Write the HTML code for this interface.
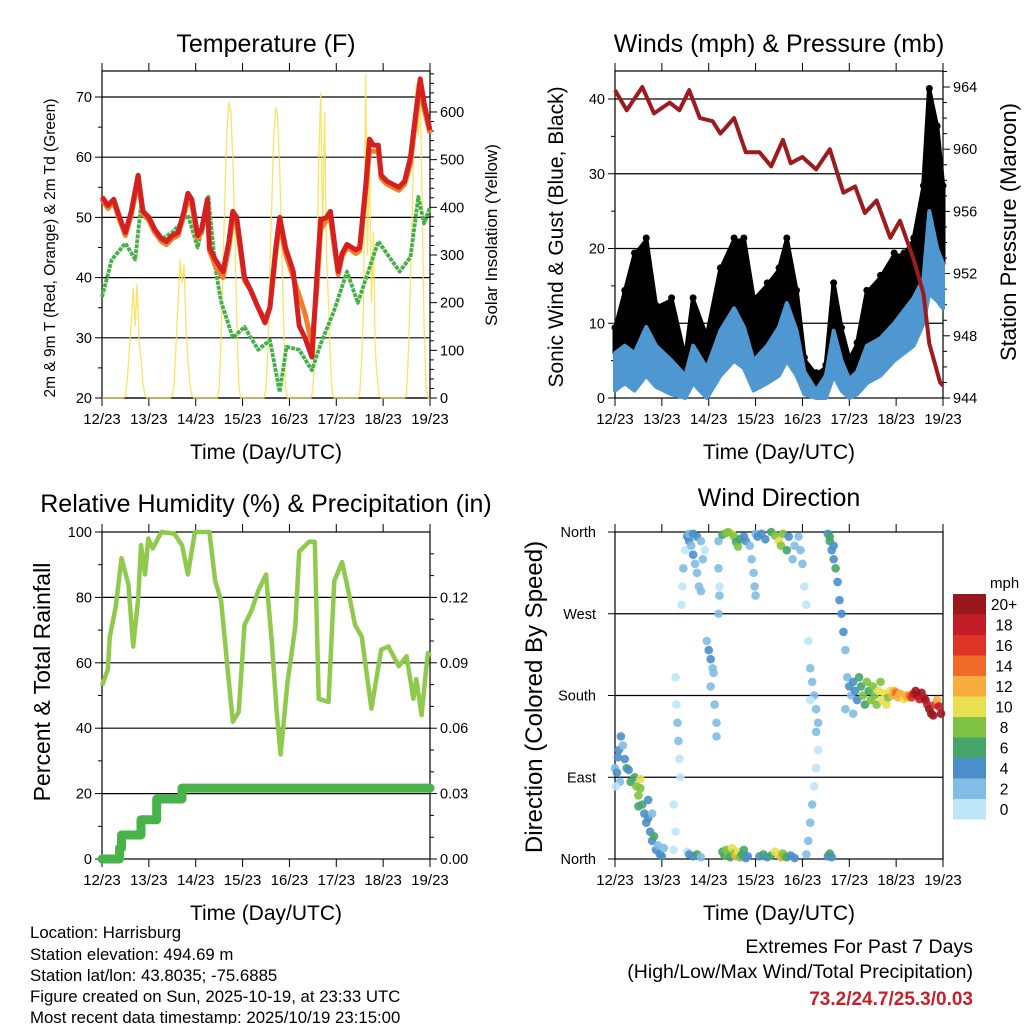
<!DOCTYPE html>
<html><head><meta charset="utf-8"><style>
html,body{margin:0;padding:0;background:#fff;}
svg{display:block;font-family:"Liberation Sans",sans-serif;}
</style></head><body>
<svg id="fig" width="1024" height="1024" viewBox="0 0 1024 1024" xmlns="http://www.w3.org/2000/svg">
<rect x="0" y="0" width="1024" height="1024" fill="#fff"/>
<text x="266" y="52" font-size="25" text-anchor="middle">Temperature (F)</text>
<text x="779" y="52" font-size="25" text-anchor="middle">Winds (mph) &amp; Pressure (mb)</text>
<text x="266" y="512" font-size="25" text-anchor="middle">Relative Humidity (%) &amp; Precipitation (in)</text>
<text x="779" y="506" font-size="25" text-anchor="middle">Wind Direction</text>
<text x="266" y="459" font-size="21" text-anchor="middle">Time (Day/UTC)</text>
<text x="779" y="459" font-size="21" text-anchor="middle">Time (Day/UTC)</text>
<text x="266" y="920" font-size="21" text-anchor="middle">Time (Day/UTC)</text>
<text x="779" y="920" font-size="21" text-anchor="middle">Time (Day/UTC)</text>
<text transform="translate(55,248) rotate(-90)" font-size="15.5" text-anchor="middle">2m &amp; 9m T (Red, Orange) &amp; 2m Td (Green)</text>
<text transform="translate(497,235) rotate(-90)" font-size="17" text-anchor="middle">Solar Insolation (Yellow)</text>
<text transform="translate(563,237) rotate(-90)" font-size="21" text-anchor="middle">Sonic Wind &amp; Gust (Blue, Black)</text>
<text transform="translate(1016,232) rotate(-90)" font-size="22" text-anchor="middle">Station Pressure (Maroon)</text>
<text transform="translate(50,682) rotate(-90)" font-size="23" text-anchor="middle">Percent &amp; Total Rainfall</text>
<text transform="translate(542,697) rotate(-90)" font-size="24" text-anchor="middle">Direction (Colored By Speed)</text>
<g font-size="16.8">
<text x="30" y="938">Location: Harrisburg</text>
<text x="30" y="960">Station elevation: 494.69 m</text>
<text x="30" y="981">Station lat/lon: 43.8035; -75.6885</text>
<text x="30" y="1002">Figure created on Sun, 2025-10-19, at 23:33 UTC</text>
<text x="30" y="1023">Most recent data timestamp: 2025/10/19 23:15:00</text>
</g>
<g text-anchor="end">
<text x="973" y="953" font-size="19.5">Extremes For Past 7 Days</text>
<text x="973" y="978" font-size="19.5">(High/Low/Max Wind/Total Precipitation)</text>
<text x="973" y="1005" font-size="19" font-weight="bold" fill="#c8202b">73.2/24.7/25.3/0.03</text>
</g>
<g id="g-plots"></g>
</svg>
<script>
// ---------- data ----------
const dayLabels = ["12/23","13/23","14/23","15/23","16/23","17/23","18/23","19/23"];
const tempHours = [0,3,6,9,12,15,18.5,21,24,27,30.5,33,36,39,42,44,46,49,51,54,55,58,62,65,67,69,73,76,80,83.5,86,89,91,94,98,101,104,107.5,110,112,115,117,119,121,123,125.5,128,130,132,135,137,139,141.5,143,146,149,152,155,158,161,163,165,168];
const tempRed = [53.4,52,53,50,47.5,51,57,51,50,48,46.5,46,47,47.5,51,54,53,47,48,53,45,43,41,46,51,50,40,38,35,32.5,35,45,50,45,41,32,30,26.8,40,49.6,50,51,46,41,44,45.5,45,44.6,45,55,63,62,62,57,56,55.5,55,56,60,68,73,69,64.5];
const tempOrange = [53,51.5,52.5,49.5,47,50.5,56,50.5,49.5,47.5,46,45.5,46.5,47,50.5,53,52,46.5,47.5,52.5,44.5,42,40,45,50,49,39.5,38,35,33,35,44,49,44,40,37,34,29,38,48,49.5,50,45,40.5,43.5,45,44.5,44,44.5,54,61,61,61,56.5,55.5,55,54.5,55.5,59,67,72,68,64];
const dewHours = [0,5,12,17,20,25,30,36,44,49,54.5,58,61,67,73,80,86,91,94.5,101,107.5,112,119,125.5,131,141.5,152.5,158,162,165,168];
const dewGreen = [36.8,43,45.7,43,52,49,46.3,47.5,50.4,45,53.4,41.8,36,30,31.8,28,29.6,21,28.5,28,24.6,29,34.6,41,35.8,46,41,43.4,53.4,49,51.7];
const solarHours = [];
const solarDaily = [
 [5,40,100,160,230,150,240,120,80,30,5],
 [5,30,120,200,290,240,280,150,80,30,5],
 [20,120,280,430,560,620,600,500,350,170,30],
 [20,110,270,420,550,610,590,480,330,160,25],
 [15,90,250,500,640,350,600,300,200,80,10],
 [10,80,200,680,300,500,200,350,100,40,5],
 [10,100,250,400,600,660,550,650,400,150,20]];
const windHours = [0,5,10,16,21,29,36,40,47,54,61,66,71,78,84,88,93,97,103,108,112,116,120,124,129,136,143,148,153,158,161,165,168];
const sustHi = [6,7,6,9.5,7,5,3,7,4,9,12,9.5,5,7,9.5,12.7,9,3.5,1,3,9,5,2.5,3.5,7,8,10,11.7,13.4,16,25,20,18];
const sustLo = [1,2,1,3,1.5,0.5,0,2,0,3,5,4,1,2,3,5,3,0.5,0,0,3,1,0,0.5,2,3,5,6,7,10,14,13,12];
const gustHi = [9,14,19,21,12,13,5,13,8,17,21,21,13,15,17,21,14,5,3,4,15,9,5,7,14,16,19,19,21,28,41,36,28];
const presHours = [0,6,14,20,28,33,38,43.5,50,54,61,67,74,80,86,90,96,103,110,117,123,128,134,141,146,153,158,161,166.5,168];
const pressure = [963.8,962.5,964,962.3,963,962.5,963.8,962,961.8,961,962,959.8,959.8,958.9,960.6,959.1,959.5,958.7,960,957.2,957.6,955.9,956.7,954.3,955.4,952.9,950.7,947.5,945,944.8];
const rhHours = [0,3,4,7,10,13.5,16,18.6,20,22,23.7,26,30.5,37,41,44,47.6,55,58,61,64.7,67,70,73,76.6,80,84,87,89.5,91.5,95,99,101,106,109,111,116,119,123,126,129.6,133,138,143,146.7,152,156,159.5,161,163.7,166,167,168];
const rhValues = [53,58,68,77,92,84,65,80,96,87,98,95,100,99.5,96,87,100,100,85,79,56,42,45,71.6,76,82,87,66,45,32,54,71,94,97,97,49,48,85,90.8,82.5,71.6,68,46,64,65,59,62,49,55,44,58,63,62];
const precipHours = [0,9,10,20,28,41,168];
const precipIn = [0,0.005,0.011,0.018,0.0275,0.0325,0.0325];
const wdHour = [0,1,1.5,2,3,4,5,6,7,8,2.5,0.5,
 10,11,12,13,14,15,16,17,18,19,20,21,22,23,24,25,17,19,13,12,
 31,31.5,32,32.5,33,33.5,34,34.5,35,36,30,30,31,
 37,38,39,40,41,42,43,44,38,40,42,44,45,46,37,38,40,42,44,
 48,49,50,50.5,49,51,52,52,47,53,53,53.5,53,53.5,
 55,56,57,58,59,60,61,62,63,64,65,66,67,68,55,57,60,61,62,63,64,58,66,67,
 70,71,71.5,72,69,72,73,
 74,76,78,80,82,84,85,86,87,88,90,92,75,77,80,82,84,85,86,88,89,91,92,
 94,95,96,97,98,99,100,101,102,103,104,104,103,102,101,100,99,98,100,103,
 109,110,111,109,110,111,112,113,114,115,116,117,118,110,112,
 119,120,121,122,123,124,125,126,127,128,129,130,131,132,133,134,135,136,137,138,139,140,141,118,122,
 142,143,144,145,146,147,148,149,150,151,152,153,154,155,156,157,158,159,160,161,162,163,164,165,166,167];
const wdDeg = [100,95,112,120,135,125,110,100,98,85,85,80,
 90,80,70,78,60,50,40,45,30,20,25,10,15,5,3,12,65,50,88,58,
 200,170,150,130,110,90,280,300,320,340,10,60,30,
 355,350,345,335,325,315,300,295,358,358,355,350,330,340,8,5,3,5,2,
 230,220,210,205,190,170,150,135,240,350,320,290,270,300,
 8,4,10,5,2,12,6,3,8,2,5,10,1,3,357,359,358,355,349,344,352,360,355,350,
 330,315,300,290,345,358,355,
 3,5,2,4,8,5,2,6,3,2,4,1,358,352,360,356,350,345,358,340,355,330,345,
 355,340,325,300,280,240,210,195,180,165,150,120,100,80,60,40,20,5,175,140,
 3,6,2,358,350,340,330,320,305,285,270,250,230,355,345,
 200,190,180,195,185,175,200,190,180,170,195,185,175,190,180,170,185,195,175,182,170,178,185,165,160,
 180,185,183,178,182,180,176,180,178,180,178,182,185,180,176,183,178,175,170,165,160,158,170,175,168,160];
const wdSpd = [3,4,4,4,4,3,5,6,5,7,3,1,
 7,8,8,9,6,5,4,4,5,4,6,4,3,5,4,2,4,3,10,6,
 1,1,2,2,1,1,1,1,2,1,1,1,1,
 4,4,3,4,2,2,2,3,3,4,4,3,2,1,1,4,4,6,3,
 4,4,3,3,2,3,2,3,2,2,2,2,2,1,
 6,7,8,8,6,10,9,12,10,8,7,6,4,4,6,8,10,8,7,8,6,9,4,4,
 2,2,2,2,3,3,4,
 4,6,4,6,10,11,12,8,9,6,4,4,4,4,7,8,10,8,9,6,4,3,3,
 2,2,2,1,1,1,2,2,2,2,2,1,1,1,2,3,2,2,1,2,
 4,6,5,4,6,4,4,7,5,4,4,4,3,7,5,
 2,4,2,4,4,4,6,6,8,7,8,7,8,9,8,9,10,9,10,11,10,9,10,2,3,
 12,13,14,13,12,12,11,12,12,14,16,18,20,20,19,20,18,20,19,20,20,20,16,13,18,20];
const speedBins = ["0","2","4","6","8","10","12","14","16","18","20+"];
const speedColors = ["#bfe6f8","#82bde6","#4b8fc8","#45a56a","#7fc241","#e8e04e","#f8ae3e","#f06b28","#df3328","#c21d27","#9a171d"];

// ---------- helpers ----------
const NS = "http://www.w3.org/2000/svg";
const root = document.getElementById("g-plots");
function mk(tag, attrs, parent) {
  const e = document.createElementNS(NS, tag);
  for (const k in attrs) e.setAttribute(k, attrs[k]);
  (parent || root).appendChild(e);
  return e;
}
const P1 = {x0:102,x1:430,y0:71,y1:398};
const P2 = {x0:615,x1:943,y0:71,y1:398};
const P3 = {x0:102,x1:430,y0:532,y1:859};
const P4 = {x0:615,x1:943,y0:532,y1:859};
function xs(p, h) { return p.x0 + h / 168 * (p.x1 - p.x0); }
const yTemp = v => 398 - (v - 20) * 6.02;
const ySolar = v => 398 - v * 0.4767;
const yWind = v => 398 - v * 7.475;
const yPres = v => 398 - (v - 944) * 15.55;
const yRH = v => 859 - v * 3.27;
const yPrecip = v => yRH(v / 0.15 * 100);
const yDir = v => 859 - v / 360 * 327;

function frame(p, name) {
  const g = mk("g", {});
  
  
  const r = mk("rect", {x:p.x0, y:p.y0, width:p.x1-p.x0, height:p.y1-p.y0, fill:"none", stroke:"#000", "stroke-width":1.2}, g);
  
  
  for (let i = 0; i < dayLabels.length; i++) {
    const x = xs(p, i * 24);
    const t1 = mk("line", {x1:x, x2:x, y1:p.y1, y2:p.y1+8, stroke:"#000"}, g);
    
    
    const t2 = mk("line", {x1:x, x2:x, y1:p.y0, y2:p.y0-8, stroke:"#000"}, g);
    
    
    const lb = mk("text", {x:x, y:p.y1+26, "font-size":15, "text-anchor":"middle"}, g);
    
    
    lb.textContent = dayLabels[i];
  }
  return g;
}
function hgrid(p, y, g) {
  const l = mk("line", {x1:p.x0, x2:p.x1, y1:y, y2:y, stroke:"#000", "stroke-width":1.2}, g);
  
  
}
function ytick(x, y, len, g, side) {
  const l = mk("line", {x1:x, x2:x + (side === "left" ? -len : len), y1:y, y2:y, stroke:"#000"}, g);
  
  
}
function ylabel(x, y, txt, anchor, g) {
  const t = mk("text", {x:x, y:y+5, "font-size":14.5, "text-anchor":anchor}, g);
  
  
  t.textContent = txt;
}
function pts(p, hs, vs, yf) { return hs.map((h, i) => xs(p, h).toFixed(1) + "," + yf(vs[i]).toFixed(1)).join(" "); }

// ---------- Panel 1: temperature ----------
const g1 = frame(P1, "temperature-panel");
for (let v = 20; v <= 70; v += 5) {
  ytick(P1.x0, yTemp(v), v % 10 === 0 ? 7 : 4, g1, "left");
  if (v % 10 === 0) { hgrid(P1, yTemp(v), g1); ylabel(P1.x0 - 10, yTemp(v), String(v), "end", g1); }
}
for (let v = 0; v <= 680; v += 20) {
  ytick(P1.x1, ySolar(v), v % 100 === 0 ? 7 : 4, g1, "right");
  if (v % 100 === 0) ylabel(P1.x1 + 10, ySolar(v), String(v), "start", g1);
}
const solarVals = [];
for (let d = 0; d < 7; d++) {
  for (let h = 0; h < 24; h++) {
    solarHours.push(d * 24 + h);
    const k = h - 12;
    solarVals.push(k >= 0 && k < solarDaily[d].length ? solarDaily[d][k] : 0);
  }
}
solarHours.push(168); solarVals.push(0);
const solar = mk("polyline", {points:pts(P1, solarHours, solarVals, ySolar), fill:"none", stroke:"#f9de4b", "stroke-width":1.3, "stroke-opacity":0.85}, g1);


const dew = mk("polyline", {points:pts(P1, dewHours, dewGreen, yTemp), fill:"none", stroke:"#45b045", "stroke-width":3.8, "stroke-linejoin":"round", "stroke-dasharray":"4 1"}, g1);


const orng = mk("polyline", {points:pts(P1, tempHours, tempOrange, yTemp), fill:"none", stroke:"#f07f2a", "stroke-width":5, "stroke-linejoin":"round"}, g1);


const red = mk("polyline", {points:pts(P1, tempHours, tempRed, yTemp), fill:"none", stroke:"#d42020", "stroke-width":5, "stroke-linejoin":"round"}, g1);



// ---------- Panel 2: winds & pressure ----------
const g2 = frame(P2, "winds-panel");
for (let v = 0; v <= 43; v += 5) {
  ytick(P2.x0, yWind(v), v % 10 === 0 ? 7 : 4, g2, "left");
  if (v % 10 === 0) { if (v > 0) hgrid(P2, yWind(v), g2); ylabel(P2.x0 - 10, yWind(v), String(v), "end", g2); }
}
for (let v = 944; v <= 965; v += 1) {
  ytick(P2.x1, yPres(v), v % 4 === 0 ? 7 : 4, g2, "right");
  if (v % 4 === 0) ylabel(P2.x1 + 10, yPres(v), String(v), "start", g2);
}
const gustPoly = pts(P2, windHours, gustHi, yWind) + " " + pts(P2, windHours.slice().reverse(), sustHi.slice().reverse(), yWind);
const gust = mk("polygon", {points:gustPoly, fill:"#000", stroke:"#000", "stroke-width":5, "stroke-linejoin":"round"}, g2);


windHours.forEach((h, i) => {
  const c = mk("circle", {cx:xs(P2, h), cy:yWind(gustHi[i]) - 3, r:3.5, fill:"#000"}, g2);
  
  
});
const sustPoly = pts(P2, windHours, sustHi, yWind) + " " + pts(P2, windHours.slice().reverse(), sustLo.slice().reverse(), yWind);
const sust = mk("polygon", {points:sustPoly, fill:"#4e97d0", stroke:"#4e97d0", "stroke-width":4, "stroke-linejoin":"round"}, g2);


const pres = mk("polyline", {points:pts(P2, presHours, pressure, yPres), fill:"none", stroke:"#9b1b1e", "stroke-width":4, "stroke-linejoin":"round"}, g2);



// ---------- Panel 3: RH & precip ----------
const g3 = frame(P3, "humidity-panel");
for (let v = 0; v <= 100; v += 10) {
  ytick(P3.x0, yRH(v), v % 20 === 0 ? 7 : 4, g3, "left");
  if (v % 20 === 0) { if (v > 0 && v < 100) hgrid(P3, yRH(v), g3); ylabel(P3.x0 - 10, yRH(v), String(v), "end", g3); }
}
for (let k = 0; k <= 14; k++) {
  const v = k / 100;
  ytick(P3.x1, yPrecip(v), k % 3 === 0 ? 7 : 4, g3, "right");
  if (k % 3 === 0 && k <= 12) ylabel(P3.x1 + 10, yPrecip(v), v.toFixed(2), "start", g3);
}
const rh = mk("polyline", {points:pts(P3, rhHours, rhValues, yRH), fill:"none", stroke:"#8fca4e", "stroke-width":4.5, "stroke-linejoin":"round"}, g3);


const stepPts = [];
precipHours.forEach((h, i) => {
  if (i > 0) stepPts.push(xs(P3, h).toFixed(1) + "," + yPrecip(precipIn[i - 1]).toFixed(1));
  stepPts.push(xs(P3, h).toFixed(1) + "," + yPrecip(precipIn[i]).toFixed(1));
});
const pr = mk("polyline", {points:stepPts.join(" "), fill:"none", stroke:"#48b348", "stroke-width":9, "stroke-linecap":"round", "stroke-linejoin":"round"}, g3);



// ---------- Panel 4: wind direction ----------
const g4 = frame(P4, "wind-direction-panel");
const dirNames = ["North","East","South","West","North"];
for (let k = 0; k <= 4; k++) {
  const v = k * 90;
  ytick(P4.x0, yDir(v), 7, g4, "left");
  if (k > 0 && k < 4) hgrid(P4, yDir(v), g4);
  ylabel(P4.x0 - 19, yDir(v), dirNames[k], "end", g4);
}
function binOf(s) { return Math.min(10, Math.max(0, Math.floor(s / 2))); }
wdHour.forEach((h, i) => {
  const c = mk("circle", {cx:xs(P4, h), cy:yDir(wdDeg[i]), r:4.3, fill:speedColors[binOf(wdSpd[i])], "fill-opacity":0.9}, g4);
  
  
});
const lg = mk("g", {});


const lt = mk("text", {x:990, y:588, "font-size":15}, lg);


lt.textContent = "mph";
for (let i = 0; i < speedBins.length; i++) {
  const yTop = 594 + (10 - i) * 20.5;
  const b = mk("rect", {x:953, y:yTop, width:33, height:20.5, fill:speedColors[i]}, lg);
  
  
  const t = mk("text", {x:1004, y:yTop + 16, "font-size":15.5, "text-anchor":"middle"}, lg);
  
  
  t.textContent = speedBins[i];
}
</script>
</body></html>
